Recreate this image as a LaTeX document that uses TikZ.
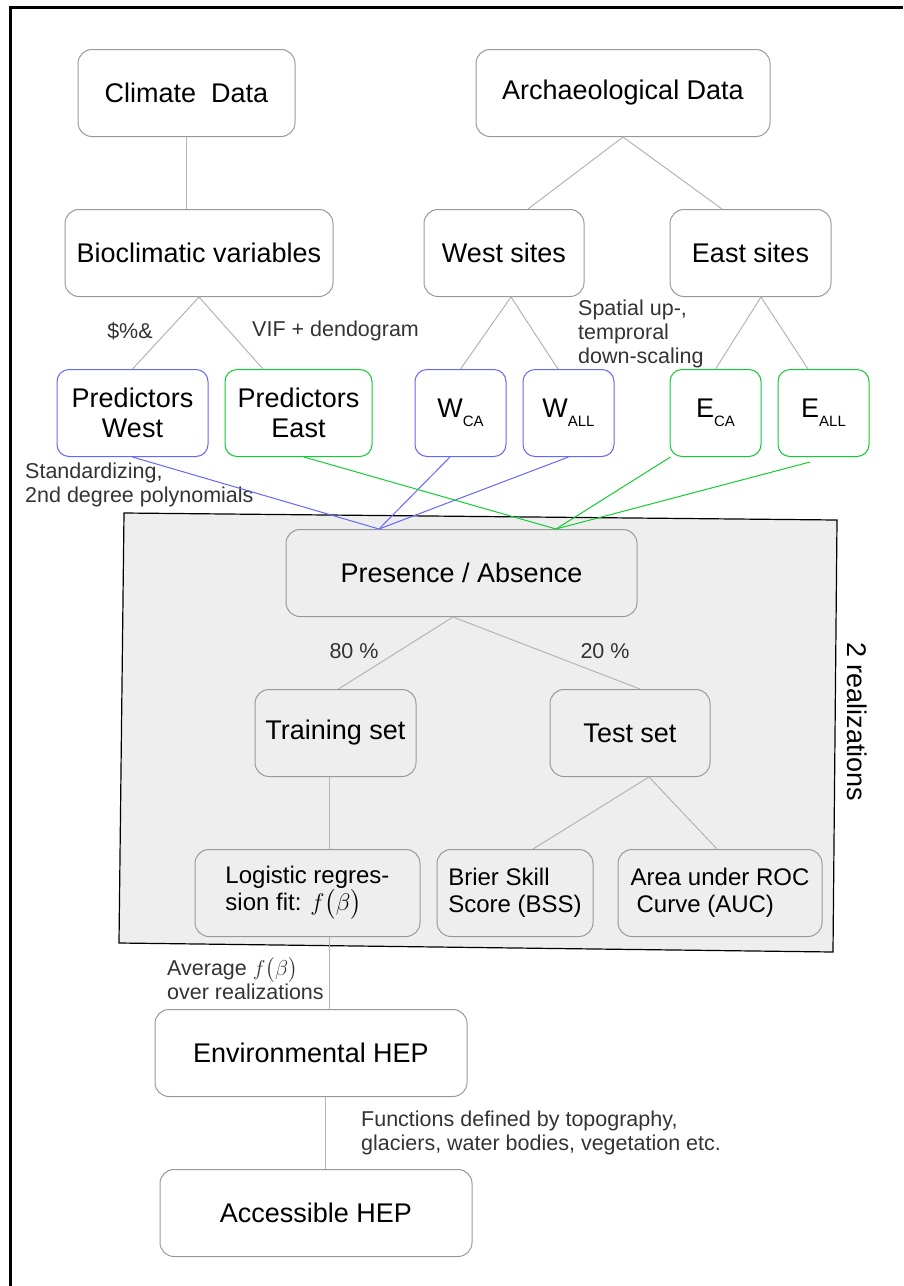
\RequirePackage{fix-cm}
\documentclass[tikz,border=0pt]{standalone}
\usepackage{fontspec}
\setmainfont{Liberation Sans}
\usepackage{amsmath}
\usetikzlibrary{positioning}

\definecolor{boxgray}{RGB}{153,153,153}
\definecolor{linkgray}{RGB}{180,180,180}
\definecolor{westblue}{RGB}{102,102,255}
\definecolor{eastgreen}{RGB}{17,204,51}
\definecolor{panelgray}{RGB}{238,238,238}
\definecolor{remarkgray}{RGB}{51,51,51}

\newcommand{\lowidx}[1]{\raisebox{-9pt}{\fontsize{15}{15}\selectfont #1}}

\begin{document}
\begin{tikzpicture}[x=1pt, y=-1pt, node distance=72pt,
    bigtxt/.style={font=\fontsize{27}{30}\selectfont},
    midtxt/.style={font=\fontsize{24}{27}\selectfont},
    gbox/.style={draw=boxgray, line width=1pt, rounded corners=14pt, minimum height=87pt, inner sep=0pt, align=center, bigtxt},
    wbox/.style={draw=westblue, line width=1pt, rounded corners=12pt, minimum height=87pt, inner sep=0pt, align=center, bigtxt},
    ebox/.style={wbox, draw=eastgreen},
    link/.style={draw=linkgray, line width=1pt},
    wlink/.style={draw=westblue, line width=1pt},
    elink/.style={draw=eastgreen, line width=1pt},
    remark/.style={text=remarkgray, font=\fontsize{21.5}{24}\selectfont, align=left, inner sep=0pt}]
    \useasboundingbox (0,0) rectangle (903,1286);
    \draw[line width=3pt] (10.5,1286) -- (10.5,7.5) -- (903,7.5);
    \draw[fill=panelgray, line width=1.2pt] (124,513) -- (837,520) -- (833,952) -- (119,943) -- cycle;

    \node[gbox, minimum width=217pt] (clim) at (186.5,93) {Climate\ \ Data};
    \node[gbox, minimum width=294pt] (arch) at (623,93) {Archaeological Data};
    \node[gbox, minimum width=268pt, below=of clim, xshift=12.5pt] (bio) {Bioclimatic variables};
    \node[gbox, minimum width=160pt, below=of arch, xshift=-119pt] (wsites) {West sites};
    \node[gbox, minimum width=161pt, below=of arch, xshift=127.5pt] (esites) {East sites};
    \node[wbox, minimum width=151pt, below=of bio, xshift=-66.5pt] (pw) {Predictors\\West};
    \node[ebox, minimum width=147pt, below=of bio, xshift=99.5pt] (pe) {Predictors\\East};
    \node[wbox, minimum width=91pt, below=of wsites, xshift=-43.5pt] (wca) {W\lowidx{CA}};
    \node[wbox, minimum width=91pt, below=of wsites, xshift=64.5pt] (wall) {W\lowidx{ALL}};
    \node[ebox, minimum width=91pt, below=of esites, xshift=-35pt] (eca) {E\lowidx{CA}};
    \node[ebox, minimum width=91pt, below=of esites, xshift=73pt] (eall) {E\lowidx{ALL}};
    \node[gbox, minimum width=351pt, below=of wca, xshift=1pt] (pa) {Presence / Absence};
    \node[gbox, minimum width=161pt, below=of pa, xshift=-126pt] (train) {Training set};
    \node[gbox, minimum width=160pt, below=of pa, xshift=168.5pt] (test) {Test set};
    \node[gbox, midtxt, align=left, minimum width=225pt, below=of train, xshift=-28pt] (logit) {Logistic regres-\\sion fit: $f\bigl(\beta\bigr)$};
    \node[gbox, midtxt, align=left, minimum width=156pt, below=of test, xshift=-115pt] (brier) {Brier Skill\\Score (BSS)};
    \node[gbox, midtxt, align=left, minimum width=204pt, below=of test, xshift=90pt] (auc) {Area under ROC\\\hspace*{0.25em}Curve (AUC)};
    \node[gbox, minimum width=312pt, below=of logit, xshift=3.5pt] (env) {Environmental HEP};
    \node[gbox, minimum width=312pt, below=of env, xshift=5pt] (acc) {Accessible HEP};

    \node[remark] (lblsym) at (130,331) {\$\%\&};
    \node[remark, anchor=west] (lblvif) at (252,331) {VIF + dendogram};
    \node[remark, anchor=west] (lblscale) at (578,334) {Spatial up-,\\temproral\\down-scaling};
    \node[remark, anchor=west] (lblstd) at (25,485) {Standardizing,\\2nd degree polynomials};
    \node[remark] (lbltrain) at (354,651) {80 \%};
    \node[remark] (lbltest) at (605,651) {20 \%};
    \node[remark, anchor=west] (lblavg) at (167,978) {Average $f\bigl(\beta\bigr)$\\over realizations};
    \node[remark, anchor=west] (lblfun) at (361,1133) {Functions defined by topography,\\glaciers, water bodies, vegetation etc.};
    \node[bigtxt, rotate=-90] (lblreal) at (857,722) {2 realizations};

    \draw[link] (clim.south) -- (clim.south |- bio.north);
    \draw[link] ([xshift=24pt]wsites.north) -- (arch.south) -- ([xshift=-28.5pt]esites.north);
    \draw[link] (pw.north) -- (bio.south) -- ([xshift=-35.5pt]pe.north);
    \draw[link] (wca.north) -- ([xshift=7pt]wsites.south) -- ([xshift=-10.5pt]wall.north);
    \draw[link] (eca.north) -- ([xshift=10.5pt]esites.south) -- ([xshift=-15.5pt]eall.north);
    \coordinate (westin) at ([xshift=-82.5pt]pa.north);
    \coordinate (eastin) at ([xshift=94.5pt]pa.north);
    \draw[wlink] (pw.south) -- (westin) -- ([xshift=-10.5pt]wca.south);
    \draw[wlink] (wall.south) -- (westin);
    \draw[elink] ([xshift=5.5pt]pe.south) -- (eastin) -- ([xshift=1pt]eca.south west);
    \draw[elink] ([xshift=-13.5pt, yshift=-5pt]eall.south) -- (eastin);
    \draw[link] ([xshift=3pt]train.north) -- ([xshift=-8.5pt]pa.south) -- ([xshift=10pt]test.north);
    \draw[link] ([xshift=-6.5pt]train.south) -- ([xshift=21.5pt]logit.north);
    \draw[link] ([xshift=21.5pt]logit.south) -- ([xshift=18pt]env.north);
    \draw[link] ([xshift=18pt]brier.north) -- ([xshift=19pt]test.south) -- ([xshift=-3pt]auc.north);
    \draw[link] ([xshift=14pt]env.south) -- ([xshift=9pt]acc.north);
\end{tikzpicture}
\end{document}
